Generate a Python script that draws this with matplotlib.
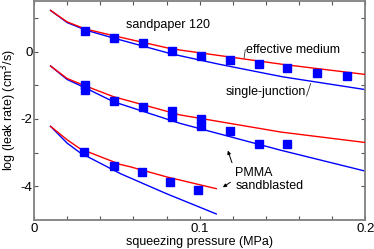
import matplotlib
matplotlib.use("Agg")
import matplotlib.pyplot as plt

plt.rcParams['font.family'] = ['Liberation Sans', 'DejaVu Sans']
plt.rcParams['axes.unicode_minus'] = False

# --- curves (effective medium = red, single-junction = blue) ---
top_red_x = [0.010, 0.020, 0.031, 0.048, 0.083, 0.112, 0.150, 0.200]
top_red_y = [1.22, 0.88, 0.67, 0.47, 0.08, -0.12, -0.38, -0.68]
top_blue_x = [0.010, 0.020, 0.031, 0.048, 0.083, 0.112, 0.150, 0.200]
top_blue_y = [1.22, 0.86, 0.64, 0.40, -0.07, -0.38, -0.75, -1.13]

mid_red_x = [0.010, 0.020, 0.031, 0.048, 0.088, 0.149, 0.200]
mid_red_y = [-0.43, -0.80, -1.02, -1.34, -1.88, -2.39, -2.70]
mid_blue_x = [0.010, 0.020, 0.031, 0.048, 0.088, 0.149, 0.200]
mid_blue_y = [-0.43, -0.83, -1.08, -1.49, -2.13, -2.93, -3.55]

bot_red_x = [0.010, 0.020, 0.028, 0.052, 0.058, 0.080, 0.110]
bot_red_y = [-2.22, -2.62, -2.89, -3.35, -3.42, -3.72, -4.07]
bot_blue_x = [0.010, 0.020, 0.028, 0.052, 0.058, 0.080, 0.110]
bot_blue_y = [-2.22, -2.72, -3.01, -3.62, -3.75, -4.22, -4.82]

# --- measured points ---
top_pts_x = [0.031, 0.048, 0.066, 0.083, 0.101, 0.118, 0.136, 0.153, 0.171, 0.189]
top_pts_y = [0.62, 0.40, 0.24, 0.03, -0.12, -0.26, -0.38, -0.50, -0.63, -0.74]

mid_pts_x = [0.031, 0.031, 0.048, 0.066, 0.083, 0.083, 0.101, 0.101, 0.118, 0.136, 0.153]
mid_pts_y = [-1.00, -1.15, -1.47, -1.66, -1.76, -1.94, -2.00, -2.20, -2.37, -2.74, -2.73]

bot_pts_x = [0.030, 0.048, 0.065, 0.082, 0.099]
bot_pts_y = [-2.97, -3.40, -3.58, -3.86, -4.12]

x_ticks = [0, 0.02, 0.04, 0.06, 0.08, 0.1, 0.12, 0.14, 0.16, 0.18, 0.2]
x_ticklabels = ['0', '', '', '', '', '0.1', '', '', '', '', '0.2']
y_ticks = [-4, -3, -2, -1, 0, 1]
y_ticklabels = ['-4', '', '-2', '', '0', '']

RED = '#ff0000'
BLUE = '#0000ff'

fig = plt.figure(figsize=(3.74, 2.49), dpi=100)
ax = fig.add_axes([0.0909, 0.1165, 0.886, 0.8795])

for xs, ys in [(top_red_x, top_red_y), (mid_red_x, mid_red_y), (bot_red_x, bot_red_y)]:
    ax.plot(xs, ys, color=RED, lw=1.0, zorder=3)
for xs, ys in [(top_blue_x, top_blue_y), (mid_blue_x, mid_blue_y), (bot_blue_x, bot_blue_y)]:
    ax.plot(xs, ys, color=BLUE, lw=1.0, zorder=2)
for xs, ys in [(top_pts_x, top_pts_y), (mid_pts_x, mid_pts_y), (bot_pts_x, bot_pts_y)]:
    ax.plot(xs, ys, ls='none', marker='s', ms=5.2, color=BLUE, mec=BLUE, zorder=4)

ax.set_xlim(0, 0.2)
ax.set_ylim(-5, 1.5)
ax.set_xticks(x_ticks)
ax.set_xticklabels(x_ticklabels)
ax.set_yticks(y_ticks)
ax.set_yticklabels(y_ticklabels)
ax.tick_params(direction='in', length=3, width=0.8, top=True, right=True,
               labelsize=9.5, color='#555555')
ax.tick_params(axis='x', pad=2)
ax.tick_params(axis='y', pad=1)
for s in ax.spines.values():
    s.set_color('#808080')
    s.set_linewidth(1.3)

ax.set_xlabel('squeezing pressure (MPa)', fontsize=9, labelpad=1)
ax.set_ylabel('log (leak rate) (cm$^3$/s)', fontsize=9)
ax.yaxis.set_label_coords(-0.046, 0.5)

ax.text(0.0555, 0.80, 'sandpaper 120', fontsize=9, va='center', ha='left')
ax.text(0.128, 0.06, 'effective medium', fontsize=9, va='center', ha='left')
ax.plot([0.1275, 0.1268], [0.05, -0.20], color='#333333', lw=0.6)
ax.text(0.1157, -1.21, 'single-junction', fontsize=9, va='center', ha='left')
ax.plot([0.1645, 0.1670], [-1.32, -0.95], color='#333333', lw=0.6)
ax.text(0.1215, -3.80, 'PMMA\nsandblasted', fontsize=9, va='center', ha='left',
        linespacing=1.05)
ax.annotate('', xy=(0.117, -2.94), xytext=(0.1195, -3.30),
            arrowprops=dict(arrowstyle='-|>', color='black', lw=0.7,
                            mutation_scale=5, shrinkA=0, shrinkB=0))
ax.annotate('', xy=(0.114, -4.03), xytext=(0.1185, -3.88),
            arrowprops=dict(arrowstyle='-|>', color='black', lw=0.7,
                            mutation_scale=5, shrinkA=0, shrinkB=0))

fig.savefig('out.png', dpi=100)
